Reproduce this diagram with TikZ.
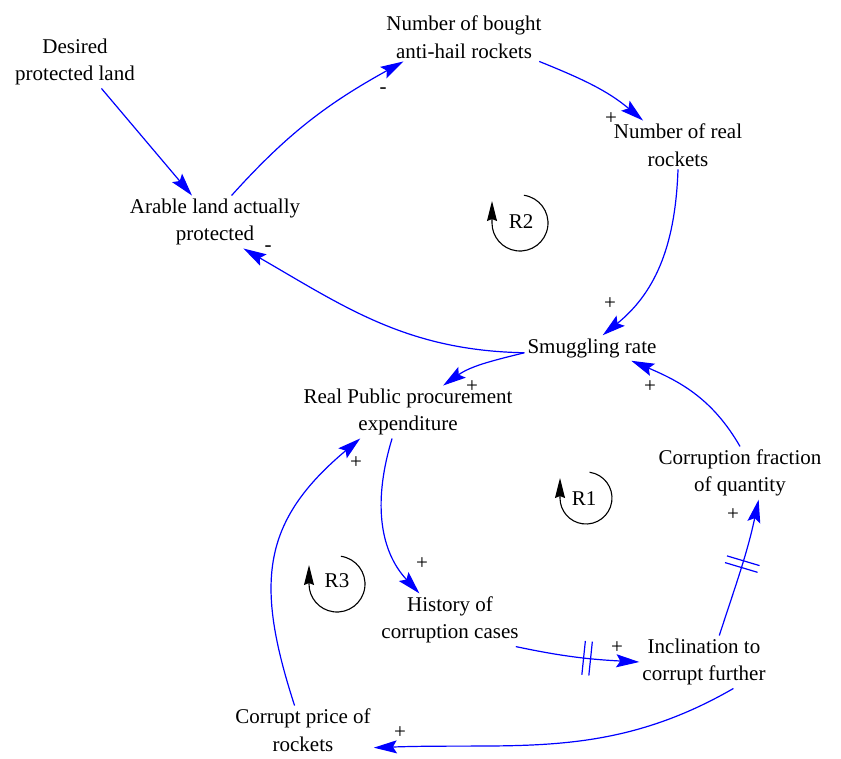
\documentclass[tikz,border=0pt]{standalone}
\usepackage{fontspec}
\setmainfont{Liberation Serif}
\usetikzlibrary{arrows.meta,decorations.markings}
\begin{document}
\begin{tikzpicture}[x=1pt,y=1pt,
  var/.style={align=center,inner sep=3pt,font=\fontsize{21}{27.5}\selectfont},
  link/.style={draw=blue,line width=1.2pt,-{Stealth[length=23pt,width=13pt,inset=4pt]}},
  sign/.style={font=\fontsize{21}{21}\selectfont,inner sep=0pt},
  loopmark/.style={draw=black,line width=1.1pt,-{Stealth[length=20pt,width=10pt,inset=2pt]}},
  looplabel/.style={font=\fontsize{21}{21}\selectfont,inner sep=0pt},
  delay/.style={postaction={decorate},decoration={markings,mark=at position #1 with
    {\draw[arrows=-,draw=blue,line width=1.2pt] (-3.5pt,-17pt)--(-3.5pt,17pt) (3.5pt,-17pt)--(3.5pt,17pt);}}}
]
\useasboundingbox (0,0) rectangle (841,-758);

% variables
\node[var] (desired)   at (75,-62)   {Desired\\protected land};
\node[var] (bought)    at (464,-37)  {Number of bought\\anti-hail rockets};
\node[var] (real)      at (678,-145) {Number of real\\rockets};
\node[var] (arable)    at (215,-222) {Arable land actually\\protected};
\node[var] (smuggling) at (592,-348) {Smuggling rate};
\node[var] (realpub)   at (408,-412) {Real Public procurement\\expenditure};
\node[var] (corrfrac)  at (740,-473) {Corruption fraction\\of quantity};
\node[var] (history)   at (450,-620) {History of\\corruption cases};
\node[var] (incl)      at (704,-662) {Inclination to\\corrupt further};
\node[var] (price)     at (303,-730) {Corrupt price of\\rockets};

% causal links
\draw[link] (desired.-45) -- (arable.131);
\draw[link] (arable.58) to[out=48,in=209] (bought.202);
\draw[link] (bought.-18) to[out=-22,in=140] (real.145);
\draw[link] (real.-90) to[out=-92,in=39] (smuggling.50);
\draw[link] (smuggling.184) to[out=179,in=-30] (arable.-43);
\draw[link] (smuggling.184) to[out=194,in=35] (realpub.37);
\draw[link] (realpub.-121) to[out=-107,in=133] (history.139);
\draw[link,delay=0.58] (history.-22) to[out=-12,in=177] (incl.180);
\draw[link,delay=0.53] (incl.60) to[out=72,in=-102] (corrfrac.-55);
\draw[link] (corrfrac.90) to[out=120,in=-23] (smuggling.-18);
\draw[link] (incl.-42) to[out=-150,in=2] (price.-14);
\draw[link] (price.109) to[out=108,in=-140,looseness=1.2] (realpub.209);

% link polarities
\node[sign] (s1)  at (383,-91)  {-};
\node[sign] (s2)  at (611,-119) {+};
\node[sign] (s3)  at (610,-304) {+};
\node[sign] (s4)  at (268,-249) {-};
\node[sign] (s5)  at (472,-387) {+};
\node[sign] (s6)  at (422,-564) {+};
\node[sign] (s7)  at (617,-648) {+};
\node[sign] (s8)  at (733,-515) {+};
\node[sign] (s9)  at (650,-387) {+};
\node[sign] (s10) at (400,-733) {+};
\node[sign] (s11) at (356,-463) {+};

% loop identifiers
\coordinate (c2) at (520,-223);
\coordinate (c1) at (586,-498);
\coordinate (c3) at (337,-584);
\draw[loopmark] ([shift={(82:28)}]c2) arc[start angle=82,end angle=-180,radius=28] -- ++(0,22);
\draw[loopmark] ([shift={(82:26)}]c1) arc[start angle=82,end angle=-180,radius=26] -- ++(0,20);
\draw[loopmark] ([shift={(82:28)}]c3) arc[start angle=82,end angle=-180,radius=28] -- ++(0,19);
\node[looplabel] (R2) at (521,-222) {R2};
\node[looplabel] (R1) at (584,-499) {R1};
\node[looplabel] (R3) at (337,-581) {R3};
\end{tikzpicture}
\end{document}
